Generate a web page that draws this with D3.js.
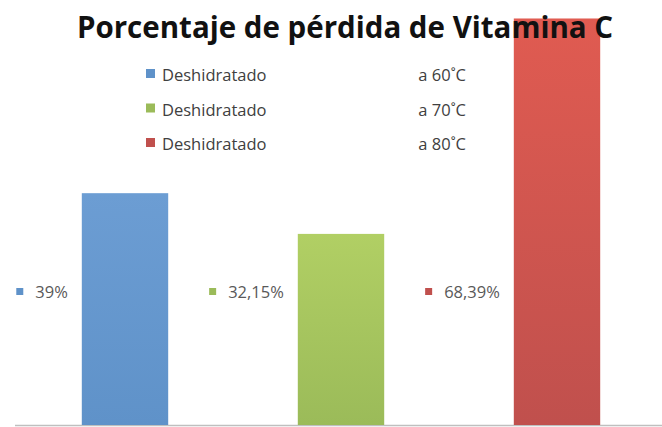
<!DOCTYPE html>
<html>
<head>
<meta charset="utf-8">
<script src="https://cdn.jsdelivr.net/npm/d3@7"></script>
<style>
  body { margin: 0; background: #fff; }
  text { font-family: 'Open Sans', sans-serif; }
</style>
</head>
<body>
<div id="container"></div>
<script>
    // Porcentaje de pérdida de Vitamina C
    const categories = ['a 60˚C', 'a 70˚C', 'a 80˚C'];
    const values = [39, 32.15, 68.39];
    const valueLabels = ['39%', '32,15%', '68,39%'];
    const legendPrefix = ['Deshidratado', 'Deshidratado', 'Deshidratado'];
    const colors = [
      { top: '#6c9dd3', bottom: '#5f92c9' },
      { top: '#b1cf64', bottom: '#9bbb59' },
      { top: '#e05b51', bottom: '#c0504d' }
    ];

    const width = 662;
    const height = 427;
    const baseline = 425;

    const svg = d3.select('#container').append('svg')
      .attr('width', width)
      .attr('height', height);

    const defs = svg.append('defs');
    colors.forEach((c, i) => {
      const g = defs.append('linearGradient')
        .attr('id', 'grad' + i)
        .attr('x1', 0).attr('y1', 0).attr('x2', 0).attr('y2', 1);
      g.append('stop').attr('offset', '0%').attr('stop-color', c.top);
      g.append('stop').attr('offset', '100%').attr('stop-color', c.bottom);
    });

    const xScale = d3.scaleBand()
      .range([17, 665])
      .domain(categories)
      .paddingInner(0.6)
      .paddingOuter(0.3);

    const yScale = d3.scaleLinear()
      .range([baseline, 0])
      .domain([0, 71.5]);

    // baseline axis
    svg.append('line')
      .attr('x1', 15)
      .attr('x2', width)
      .attr('y1', baseline + 0.5)
      .attr('y2', baseline + 0.5)
      .attr('stroke', '#bfbfbf')
      .attr('stroke-width', 1.5);

    const barGroups = svg.selectAll('.bar-g')
      .data(categories)
      .enter()
      .append('g')
      .attr('class', 'bar-g');

    barGroups.append('rect')
      .attr('class', 'bar')
      .attr('x', (d) => xScale(d))
      .attr('y', (d, i) => yScale(values[i]))
      .attr('width', xScale.bandwidth())
      .attr('height', (d, i) => yScale(0) - yScale(values[i]))
      .attr('fill', (d, i) => `url(#grad${i})`);

    // value labels with key squares, left of each bar
    barGroups.each(function (d, i) {
      const g = d3.select(this);
      const txt = g.append('text')
        .attr('x', xScale(d) - 14)
        .attr('y', 298)
        .attr('text-anchor', 'end')
        .attr('fill', '#595959')
        .style('font-size', '16.5px')
        .text(valueLabels[i]);
      const w = txt.node().getComputedTextLength();
      g.append('rect')
        .attr('x', xScale(d) - 14 - w - 19)
        .attr('y', 288)
        .attr('width', 7)
        .attr('height', 7)
        .attr('fill', colors[i].bottom);
    });

    // legend
    const legendY = d3.scalePoint()
      .domain(categories)
      .range([76, 145]);

    const legend = svg.selectAll('.legend')
      .data(categories)
      .enter()
      .append('g')
      .attr('class', 'legend')
      .attr('transform', (d) => `translate(0,${legendY(d)})`);

    legend.append('rect')
      .attr('x', 146)
      .attr('y', -7)
      .attr('width', 9)
      .attr('height', 9)
      .attr('fill', (d, i) => colors[i].bottom);

    legend.append('text')
      .attr('x', 162)
      .attr('y', 5)
      .attr('fill', '#404040')
      .style('font-size', '16.5px')
      .text((d, i) => legendPrefix[i]);

    legend.append('text')
      .attr('x', 466)
      .attr('y', 5)
      .attr('text-anchor', 'end')
      .attr('fill', '#404040')
      .style('font-size', '16.5px')
      .text((d) => d);

    svg.append('text')
      .attr('class', 'title')
      .attr('x', 345)
      .attr('y', 38)
      .attr('text-anchor', 'middle')
      .attr('fill', '#111')
      .style('font-size', '29.5px')
      .style('font-weight', 'bold')
      .text('Porcentaje de pérdida de Vitamina C');
</script>
</body>
</html>
